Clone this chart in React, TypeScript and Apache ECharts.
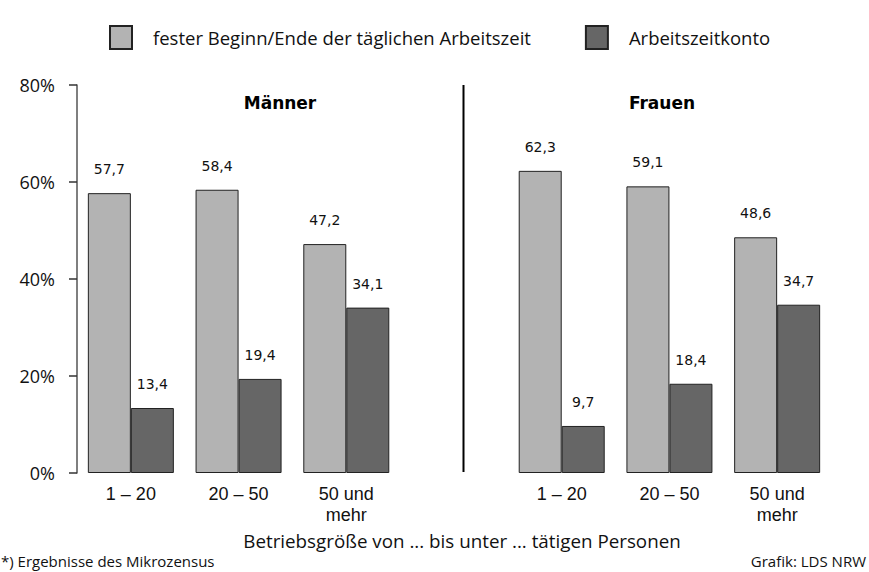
import React, { useEffect, useRef } from "react";
import * as echarts from "echarts";

const categories = ["1 – 20", "20 – 50", "50 und\nmehr", "", "1 – 20", "20 – 50", "50 und\nmehr"];
const festerValues = [57.7, 58.4, 47.2, null, 62.3, 59.1, 48.6];
const kontoValues = [13.4, 19.4, 34.1, null, 9.7, 18.4, 34.7];
const seriesNames = ["fester Beginn/Ende der täglichen Arbeitszeit", "Arbeitszeitkonto"];
const yTicks = [0, 20, 40, 60, 80];
const groupTitles = ["Männer", "Frauen"];

const SANS = "'Open Sans', 'Noto Sans', sans-serif";
const ARIAL = "'Liberation Sans', Arial, sans-serif";
const VAL = "'DejaVu Sans', Verdana, sans-serif";

export default function App() {
  const ref = useRef<HTMLDivElement>(null);
  useEffect(() => {
    if (!ref.current) return;
    const chart = echarts.init(ref.current, undefined, { renderer: "svg" });
    const fmt = (p: any) => (p.value == null ? "" : String(p.value).replace(".", ","));
    const labelCfg = {
      show: true,
      position: "top",
      distance: 17,
      fontFamily: VAL,
      fontSize: 14,
      color: "#111",
      formatter: fmt,
    };
    chart.setOption({
      animation: false,
      backgroundColor: "#fff",
      legend: {
        left: 109,
        top: 25,
        padding: 0,
        icon: "rect",
        itemWidth: 22,
        itemHeight: 23,
        itemGap: 54,
        selectedMode: false,
        textStyle: { fontFamily: SANS, fontSize: 18.5, color: "#111", padding: [0, 0, 0, 16] },
        data: seriesNames,
      },
      grid: { left: 77, right: 38, top: 85, bottom: 99, containLabel: false },
      xAxis: {
        type: "category",
        data: categories,
        axisLine: { show: false },
        axisTick: { show: false },
        axisLabel: {
          interval: 0,
          margin: 10,
          fontFamily: ARIAL,
          fontSize: 18,
          lineHeight: 21,
          color: "#111",
        },
      },
      yAxis: {
        type: "value",
        min: yTicks[0],
        max: yTicks[yTicks.length - 1],
        interval: 20,
        splitLine: { show: false },
        axisLine: { show: true, lineStyle: { color: "#555", width: 1.5 } },
        axisTick: { show: true, length: 8, lineStyle: { color: "#333", width: 1.5 } },
        axisLabel: {
          margin: 22,
          fontFamily: SANS,
          fontSize: 18,
          color: "#111",
          formatter: "{value}%",
        },
      },
      series: [
        {
          name: seriesNames[0],
          type: "bar",
          data: festerValues,
          barWidth: 43,
          barGap: "0%",
          itemStyle: { color: "#b3b3b3", borderColor: "#222", borderWidth: 1 },
          label: labelCfg,
        },
        {
          name: seriesNames[1],
          type: "bar",
          data: kontoValues,
          barWidth: 43,
          barGap: "0%",
          itemStyle: { color: "#666666", borderColor: "#222", borderWidth: 1 },
          label: labelCfg,
        },
      ],
      graphic: [
        {
          type: "line",
          shape: { x1: 463.5, y1: 85, x2: 463.5, y2: 472 },
          style: { stroke: "#000", lineWidth: 2 },
        },
        {
          type: "text",
          x: 280,
          y: 103,
          style: {
            text: groupTitles[0],
            fontFamily: VAL,
            fontWeight: "bold",
            fontSize: 17,
            fill: "#000",
            align: "center",
            verticalAlign: "middle",
          },
        },
        {
          type: "text",
          x: 662,
          y: 103,
          style: {
            text: groupTitles[1],
            fontFamily: VAL,
            fontWeight: "bold",
            fontSize: 17,
            fill: "#000",
            align: "center",
            verticalAlign: "middle",
          },
        },
        {
          type: "text",
          x: 462,
          y: 541,
          style: {
            text: "Betriebsgröße von ... bis unter ... tätigen Personen",
            fontFamily: SANS,
            fontSize: 18.8,
            fill: "#111",
            align: "center",
            verticalAlign: "middle",
          },
        },
        {
          type: "text",
          x: 1,
          y: 561,
          style: {
            text: "*) Ergebnisse des Mikrozensus",
            fontFamily: SANS,
            fontSize: 15,
            fill: "#111",
            align: "left",
            verticalAlign: "middle",
          },
        },
        {
          type: "text",
          x: 866,
          y: 561,
          style: {
            text: "Grafik: LDS NRW",
            fontFamily: SANS,
            fontSize: 15,
            fill: "#111",
            align: "right",
            verticalAlign: "middle",
          },
        },
      ],
    });
    return () => chart.dispose();
  }, []);
  return <div ref={ref} style={{ width: 869, height: 572, position: "absolute", left: 0, top: 0 }} />;
}
